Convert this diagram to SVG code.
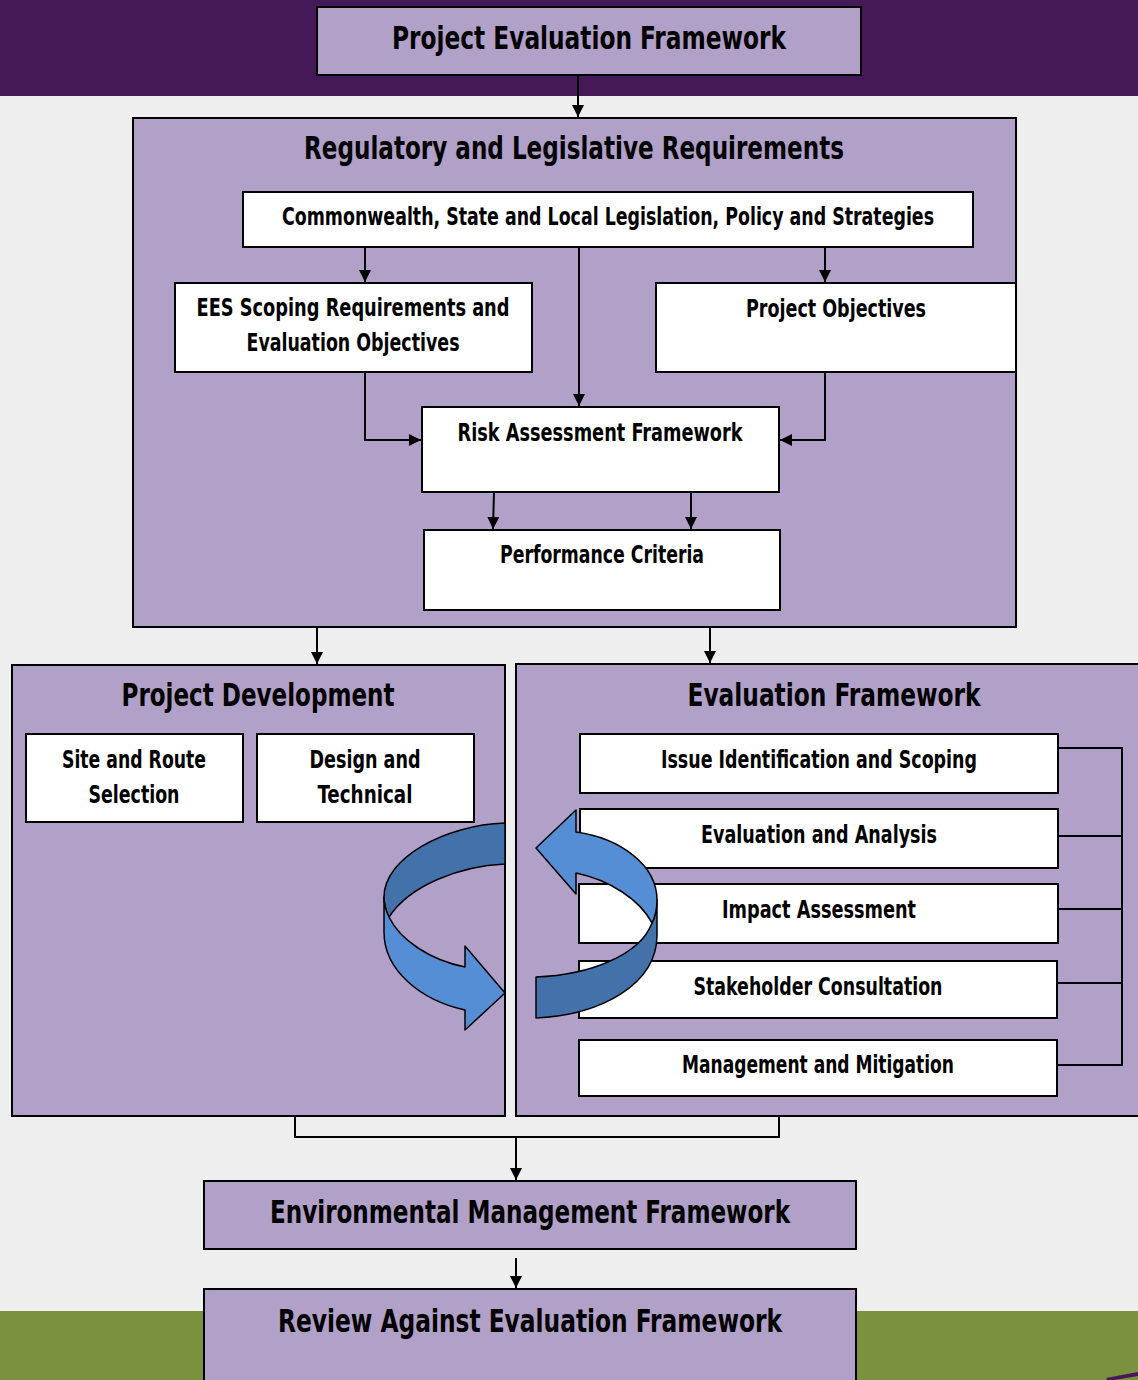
<svg xmlns="http://www.w3.org/2000/svg" width="1138" height="1380" viewBox="0 0 1138 1380">
<defs>
<marker id="ah" viewBox="0 0 10 10" refX="10" refY="5" markerWidth="6" markerHeight="6" markerUnits="strokeWidth" orient="auto">
<path d="M0,0 L10,5 L0,10 Z" fill="#000"/>
</marker>
<style>
.pbox{fill:#B1A0C7;stroke:#000;stroke-width:2}
.wbox{fill:#FFFFFF;stroke:#000;stroke-width:2}
.t{font-family:"Liberation Sans Narrow","Arial Narrow","DejaVu Sans Condensed",sans-serif;font-weight:bold;fill:#000;text-anchor:middle}
.big{font-size:32px}
.med{font-size:24px}
.conn{fill:none;stroke:#000;stroke-width:2}
.arr{marker-end:url(#ah)}
.dk{fill:#4372AA;stroke:#000;stroke-width:1.5;stroke-linejoin:round}
.lt{fill:#558ED5;stroke:#000;stroke-width:1.5;stroke-linejoin:round}
</style>
</defs>
<rect x="0" y="0" width="1138" height="1380" fill="#EEEEEE"/>
<rect x="0" y="0" width="1138" height="96" fill="#451857"/>
<rect x="0" y="1311" width="1138" height="69" fill="#7A913F"/>
<polygon points="1106,1378 1138,1372 1138,1376 1108,1381" fill="#451857"/>

<g id="project-evaluation-framework">
<rect class="pbox" x="317" y="7" width="544" height="68"/>
<text class="t big" x="589" y="49" textLength="394" lengthAdjust="spacingAndGlyphs">Project Evaluation Framework</text>
</g>

<g id="regulatory">
<rect class="pbox" x="133" y="118" width="883" height="509"/>
<text class="t big" x="574" y="159" textLength="540" lengthAdjust="spacingAndGlyphs">Regulatory and Legislative Requirements</text>
</g>
<g id="commonwealth">
<rect class="wbox" x="243" y="192" width="730" height="55"/>
<text class="t med" x="608" y="225" textLength="652" lengthAdjust="spacingAndGlyphs">Commonwealth, State and Local Legislation, Policy and Strategies</text>
</g>
<g id="ees-scoping">
<rect class="wbox" x="175" y="283" width="357" height="89"/>
<text class="t med" x="353" y="316" textLength="313" lengthAdjust="spacingAndGlyphs">EES Scoping Requirements and</text>
<text class="t med" x="353" y="351" textLength="213" lengthAdjust="spacingAndGlyphs">Evaluation Objectives</text>
</g>
<g id="project-objectives">
<rect class="wbox" x="656" y="283" width="360" height="89"/>
<text class="t med" x="836" y="317" textLength="180" lengthAdjust="spacingAndGlyphs">Project Objectives</text>
</g>
<g id="risk-assessment">
<rect class="wbox" x="422" y="407" width="357" height="85"/>
<text class="t med" x="600" y="441" textLength="285" lengthAdjust="spacingAndGlyphs">Risk Assessment Framework</text>
</g>
<g id="performance-criteria">
<rect class="wbox" x="424" y="530" width="356" height="80"/>
<text class="t med" x="602" y="563" textLength="204" lengthAdjust="spacingAndGlyphs">Performance Criteria</text>
</g>

<g id="project-development">
<rect class="pbox" x="12" y="665" width="493" height="451"/>
<text class="t big" x="258" y="706" textLength="273" lengthAdjust="spacingAndGlyphs">Project Development</text>
</g>
<g id="site-route">
<rect class="wbox" x="26" y="734" width="217" height="88"/>
<text class="t med" x="134" y="768" textLength="144" lengthAdjust="spacingAndGlyphs">Site and Route</text>
<text class="t med" x="134" y="803" textLength="91" lengthAdjust="spacingAndGlyphs">Selection</text>
</g>
<g id="design-technical">
<rect class="wbox" x="257" y="734" width="217" height="88"/>
<text class="t med" x="365" y="768" textLength="111" lengthAdjust="spacingAndGlyphs">Design and</text>
<text class="t med" x="365" y="803" textLength="95" lengthAdjust="spacingAndGlyphs">Technical</text>
</g>

<g id="evaluation-framework">
<rect class="pbox" x="516" y="664" width="630" height="452"/>
<text class="t big" x="834" y="706" textLength="293" lengthAdjust="spacingAndGlyphs">Evaluation Framework</text>
</g>
<g id="issue-identification">
<rect class="wbox" x="580" y="734" width="478" height="59"/>
<text class="t med" x="819" y="768" textLength="316" lengthAdjust="spacingAndGlyphs">Issue Identification and Scoping</text>
</g>
<g id="evaluation-analysis">
<rect class="wbox" x="580" y="809" width="478" height="59"/>
<text class="t med" x="819" y="843" textLength="236" lengthAdjust="spacingAndGlyphs">Evaluation and Analysis</text>
</g>
<g id="impact-assessment">
<rect class="wbox" x="579" y="884" width="479" height="59"/>
<text class="t med" x="819" y="918" textLength="194" lengthAdjust="spacingAndGlyphs">Impact Assessment</text>
</g>
<g id="stakeholder-consultation">
<rect class="wbox" x="579" y="961" width="478" height="57"/>
<text class="t med" x="818" y="995" textLength="249" lengthAdjust="spacingAndGlyphs">Stakeholder Consultation</text>
</g>
<g id="management-mitigation">
<rect class="wbox" x="579" y="1040" width="478" height="56"/>
<text class="t med" x="818" y="1073" textLength="272" lengthAdjust="spacingAndGlyphs">Management and Mitigation</text>
</g>

<g id="environmental-management-framework">
<rect class="pbox" x="204" y="1181" width="652" height="68"/>
<text class="t big" x="530" y="1223" textLength="520" lengthAdjust="spacingAndGlyphs">Environmental Management Framework</text>
</g>
<g id="review">
<rect class="pbox" x="204" y="1289" width="652" height="100"/>
<text class="t big" x="530" y="1332" textLength="504" lengthAdjust="spacingAndGlyphs">Review Against Evaluation Framework</text>
</g>

<g id="connectors">
<line class="conn arr" x1="578" y1="75" x2="578" y2="117"/>
<line class="conn arr" x1="365" y1="247" x2="365" y2="282"/>
<line class="conn arr" x1="579" y1="247" x2="579" y2="406"/>
<line class="conn arr" x1="825" y1="247" x2="825" y2="282"/>
<polyline class="conn arr" points="365,372 365,440 421,440"/>
<polyline class="conn arr" points="825,372 825,440 780,440"/>
<line class="conn arr" x1="494" y1="492" x2="493" y2="529"/>
<line class="conn arr" x1="691" y1="492" x2="691" y2="529"/>
<line class="conn arr" x1="317" y1="627" x2="317" y2="664"/>
<line class="conn arr" x1="710" y1="627" x2="710" y2="663"/>
<polyline class="conn" points="1058,748 1122,748 1122,1065 1058,1065"/>
<line class="conn" x1="1058" y1="836" x2="1122" y2="836"/>
<line class="conn" x1="1058" y1="909" x2="1122" y2="909"/>
<line class="conn" x1="1058" y1="983" x2="1122" y2="983"/>
<polyline class="conn" points="295,1116 295,1137 779,1137 779,1116"/>
<line class="conn arr" x1="516" y1="1137" x2="516" y2="1180"/>
<line class="conn arr" x1="516" y1="1258" x2="516" y2="1288"/>
</g>

<g id="cycle-arrow-left">
<path class="dk" d="M505,823 C445,825 384,858 384,897 C384,905 386,911 389,917 C410,885 460,866 505,864 Z"/>
<path class="lt" d="M384,897 L384,932 C384,970 420,1000 465,1010 L465,1030 L505,993 L465,946 L465,967 C430,960 400,940 389,917 C386,911 384,905 384,897 Z"/>
</g>
<g id="cycle-arrow-right">
<path class="dk" d="M652,923 C655,917 657,910 657,900 L657,935 C657,985 600,1015 536,1018 L536,977 C590,975 640,955 652,923 Z"/>
<path class="lt" d="M576,832 L576,810 L536,848 L576,894 L576,873 C610,880 640,900 652,923 C655,917 657,910 657,900 C657,865 620,838 576,832 Z"/>
</g>
</svg>
